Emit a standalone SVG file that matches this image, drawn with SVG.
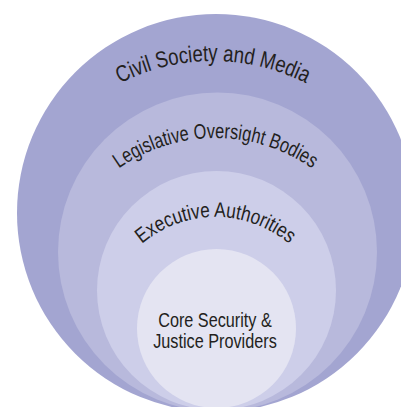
<svg xmlns="http://www.w3.org/2000/svg" width="401" height="407" viewBox="0 0 401 407">
  <style>
    .lbl { font-family: "Liberation Sans", Arial, sans-serif; fill: #231f20; }
  </style>
  <defs>
    <!-- baselines for the curved ring labels -->
    <path id="arc-civil" d="M 9 265 A 204 204 0 0 1 417 265"/>
    <path id="arc-legis" d="M 47.5 306 A 168 168 0 0 1 383.5 306"/>
    <path id="arc-exec" d="M 101.5 331 A 114 114 0 0 1 329.5 331"/>
  </defs>

  <g id="ring-civil-society">
    <circle cx="216" cy="213" r="199" fill="#a3a5d1"/>
    <text class="lbl" font-size="23"><textPath href="#arc-civil" startOffset="50%" text-anchor="middle" textLength="193" lengthAdjust="spacingAndGlyphs">Civil Society and Media</textPath></text>
  </g>

  <g id="ring-legislative">
    <circle cx="217.5" cy="252" r="159.5" fill="#b8b9dc"/>
    <text class="lbl" font-size="21"><textPath href="#arc-legis" startOffset="50%" text-anchor="middle" textLength="206" lengthAdjust="spacingAndGlyphs">Legislative Oversight Bodies</textPath></text>
  </g>

  <g id="ring-executive">
    <circle cx="216.5" cy="290.5" r="119.5" fill="#cdcee9"/>
    <text class="lbl" font-size="21"><textPath href="#arc-exec" startOffset="50%" text-anchor="middle" textLength="160" lengthAdjust="spacingAndGlyphs">Executive Authorities</textPath></text>
  </g>

  <g id="core-providers">
    <circle cx="216.5" cy="328.5" r="79.5" fill="#e4e4f2"/>
    <text class="lbl" font-size="19.8" text-anchor="middle" transform="translate(215 326.7) scale(0.82 1)">Core Security &amp;</text>
    <text class="lbl" font-size="19.8" text-anchor="middle" transform="translate(215 347.5) scale(0.82 1)">Justice Providers</text>
  </g>
</svg>
